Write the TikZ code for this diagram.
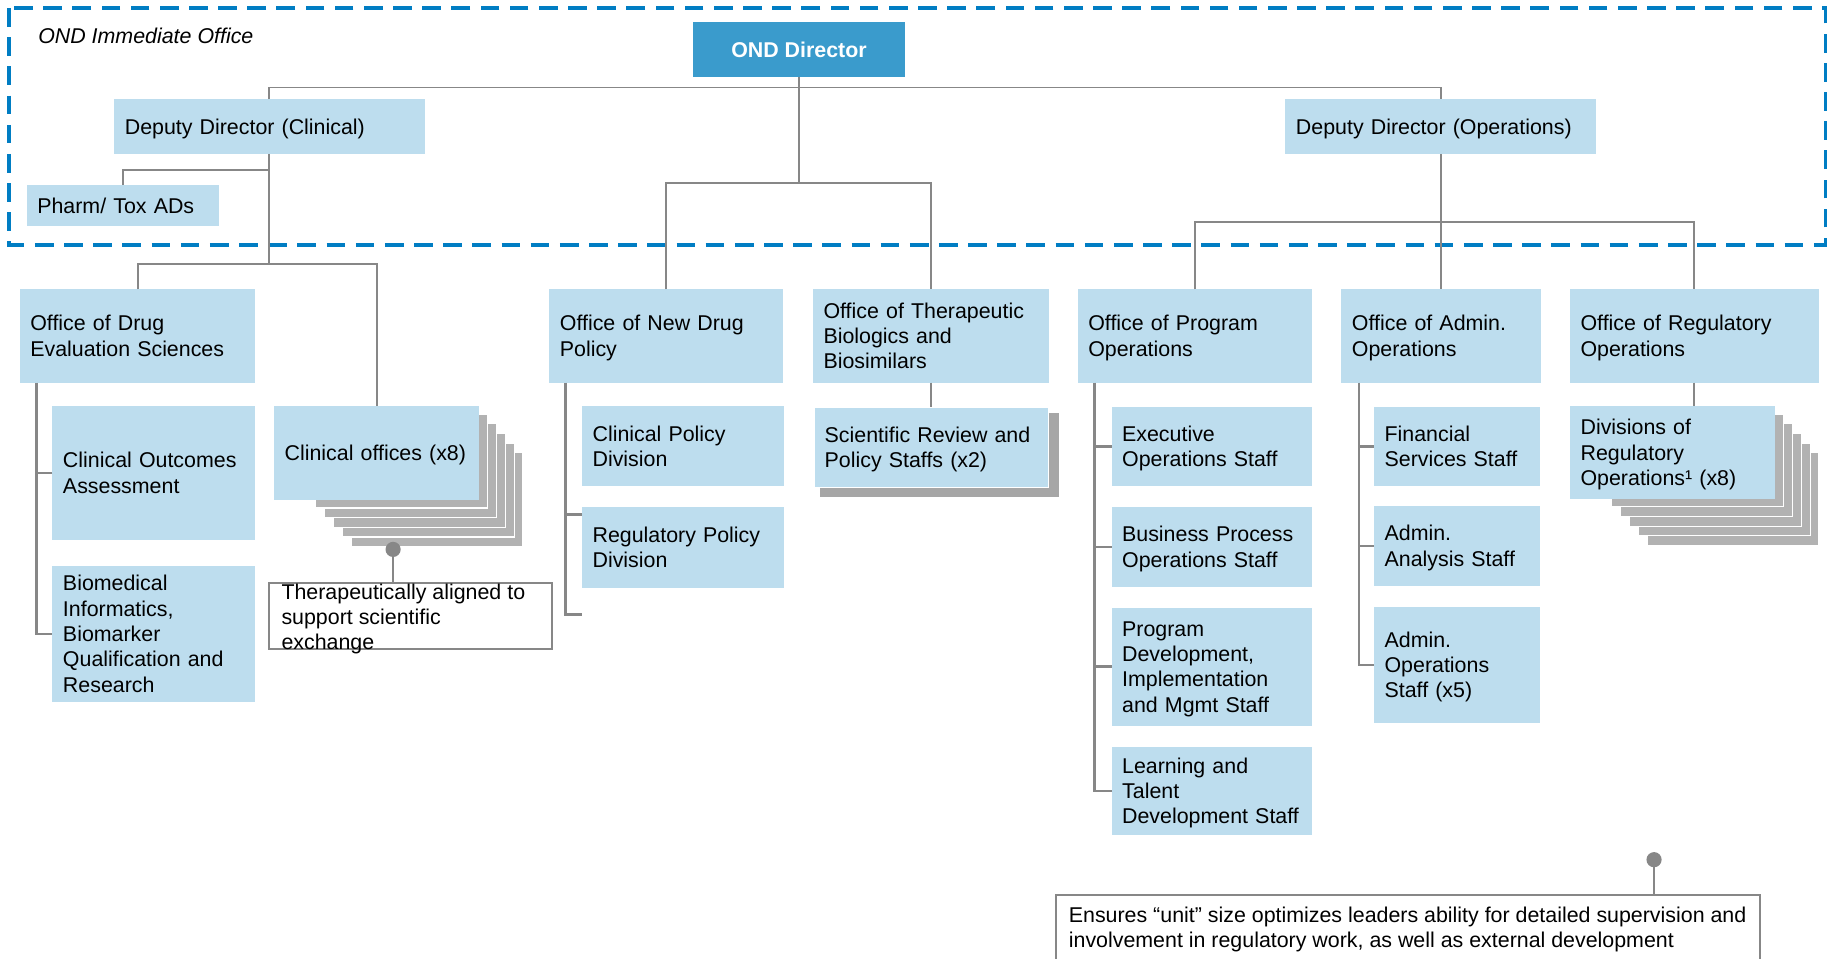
\documentclass[tikz,border=0pt]{standalone}
\usepackage{fontspec}
\setmainfont{Liberation Sans}
\usetikzlibrary{calc}
\definecolor{lb}{RGB}{189,221,238}
\definecolor{db}{RGB}{58,155,204}
\definecolor{dashblue}{RGB}{0,125,195}
\definecolor{lngray}{RGB}{135,135,135}
\definecolor{shgray}{RGB}{178,178,178}
\definecolor{shgrayb}{RGB}{166,166,166}
\tikzset{
  ob/.style 2 args={fill=lb, draw=none, anchor=north west, outer sep=0pt,
    minimum width=#1*0.6pt, minimum height=#2*0.6pt,
    text width=(#1-18)*0.6pt, inner xsep=5.4pt, inner ysep=0pt, align=left,
    execute at begin node={\rule{0pt}{10.2pt}},
    execute at end node={\rule[-2.5pt]{0pt}{2.5pt}}},
  ln/.style={draw=lngray, line width=1.0pt},
  sl/.style={draw=lngray, line width=1.4pt},
  shadowrect/.style={fill=shgray, draw=white, line width=0.6pt},
  dashbox/.style={draw=dashblue, line width=1.9pt, dash pattern=on 9.6pt off 5.4pt},
  calloutbox/.style={draw=lngray, line width=1.0pt, anchor=north west, outer sep=0pt, inner sep=0pt},
  dotnode/.style={circle, fill=lngray, minimum size=7.8pt, inner sep=0pt},
  plaintext/.style={anchor=west, align=left, inner sep=0pt}
}
\begin{document}
\begin{tikzpicture}[x=0.6pt,y=-0.6pt,font=\fontsize{11}{13}\selectfont]
\useasboundingbox (0,0) rectangle (1568,822);
\fill[white] (0,0) rectangle (1568,822);
\clip (0,0) rectangle (1568,822);

% immediate office frame
\draw[dashbox] (8,7) rectangle (1565,210);
\node[anchor=base west, inner sep=0pt, font=\fontsize{11}{13}\selectfont\itshape] (oio) at (32.5,37.5) {OND Immediate Office};

% shadows
\foreach \k in {4,3,2,1,0} {
  \filldraw[shadowrect] ({270.5+7.6*\k},{355+8.3*\k}) rectangle ({418+7.6*\k},{435.5+8.3*\k});
  \filldraw[shadowrect] ({1381.5+7.6*\k},{355+8.3*\k}) rectangle ({1529+7.6*\k},{434.5+8.3*\k});
}
\fill[shgrayb] (703,354) rectangle (908,426);

% nodes
\node[fill=db, anchor=north west, outer sep=0pt, minimum width=182*0.6pt, minimum height=47*0.6pt, inner sep=0pt, text=white, font=\fontsize{11}{13}\selectfont\bfseries] (ond) at (594,19) {\raisebox{-0.8pt}{OND Director}};
\node[ob={266}{47}] (ddc) at (98,85) {Deputy Director (Clinical)};
\node[ob={266}{47}] (ddo) at (1102,85) {Deputy Director (Operations)};
\node[ob={165}{35}] (pharm) at (23,159) {Pharm/ Tox ADs};

\node[ob={202}{80}] (odes) at (17,248) {Office of Drug\\Evaluation Sciences};
\node[ob={174}{115}] (coa) at (45,348) {Clinical Outcomes\\Assessment};
\node[ob={174}{117}] (bi) at (45,485) {Biomedical\\Informatics,\\Biomarker\\Qualification and\\Research};
\node[ob={176}{81}] (clin) at (235,348) {Clinical offices (x8)};

\node[ob={200}{80}] (ondp) at (471,248) {Office of New Drug\\Policy};
\node[ob={173}{69}] (cpd) at (499,348) {Clinical Policy\\Division};
\node[ob={173}{69}] (rpd) at (499,435) {Regulatory Policy\\Division};

\node[ob={202}{80}] (otbb) at (697,248) {Office of Therapeutic\\Biologics and\\Biosimilars};
\node[ob={201}{69}, draw=white, line width=0.5pt] (srps) at (698,349) {Scientific Review and\\Policy Staffs (x2)};

\node[ob={201}{80}] (opo) at (924,248) {Office of Program\\Operations};
\node[ob={172}{68}] (eos) at (953,349) {Executive\\Operations Staff};
\node[ob={172}{68}] (bpos) at (953,435) {Business Process\\Operations Staff};
\node[ob={172}{101}] (pdim) at (953,521) {Program\\Development,\\Implementation\\and Mgmt Staff};
\node[ob={172}{76}] (ltds) at (953,640) {Learning and\\Talent\\Development Staff};

\node[ob={171}{80}] (oao) at (1150,248) {Office of Admin.\\Operations};
\node[ob={142}{68}] (fss) at (1178,349) {Financial\\Services Staff};
\node[ob={142}{68}] (aas) at (1178,434) {Admin.\\Analysis Staff};
\node[ob={142}{100}] (aos) at (1178,520) {Admin.\\Operations\\Staff (x5)};

\node[ob={213}{80}] (oro) at (1346,248) {Office of Regulatory\\Operations};
\node[ob={176}{80}] (dro) at (1346,348) {Divisions of\\Regulatory\\Operations¹ (x8)};

% main connectors
\draw[ln] (ddc.north) -- (ddc.north |- 0,75) -- (ddo.north |- 0,75) -- (ddo.north);
\draw[ln] (ond.south) -- (ond.south |- 0,157);
\draw[ln] (ondp.north) -- (ondp.north |- 0,157) -- (otbb.north |- 0,157) -- (otbb.north);
\draw[ln] (ddc.south) -- (ddc.south |- 0,226);
\draw[ln] (ddc.south |- 0,146) -| (pharm.north);
\draw[ln] (odes.north) -- (odes.north |- 0,226) -- (clin.north |- 0,226) -- (clin.north);
\draw[ln] (ddo.south) -- (ddo.south |- oao.north);
\draw[ln] (opo.north) -- (opo.north |- 0,190) -- (oro.north |- 0,190) -- (oro.north);
\draw[ln] (otbb.south) -- (otbb.south |- srps.north);
\draw[ln] (oro.south) -- (oro.south |- dro.north);

% sub connectors
\draw[sl] ($(odes.south west)+(14,0)$) |- (bi.west);
\draw[sl] (coa.west) -- ++(-14,0);
\draw[sl] ($(ondp.south west)+(14,0)$) |- ($(rpd.south west)+(0,23)$);
\draw[sl] ($(rpd.north west)+(0,6)$) -- ++(-14,0);
\draw[sl] ($(opo.south west)+(14,0)$) |- (ltds.west);
\draw[sl] (eos.west) -- ++(-15,0);
\draw[sl] (bpos.west) -- ++(-15,0);
\draw[sl] (pdim.west) -- ++(-15,0);
\draw[sl] ($(oao.south west)+(15,0)$) |- (aos.west);
\draw[sl] (fss.west) -- ++(-13,0);
\draw[sl] (aas.west) -- ++(-13,0);

% callout 1
\node[calloutbox, minimum width=242*0.6pt, minimum height=56.5*0.6pt] (cb1) at (231,499.5) {};
\node[plaintext] (ct1) at (241,530.5) {Therapeutically aligned to\\support scientific\\exchange};
\node[dotnode] (dot1) at (337,471) {};
\draw[sl] (dot1.center) -- (dot1.center |- cb1.north);

% callout 2
\node[calloutbox, minimum width=604*0.6pt, minimum height=80*0.6pt] (cb2) at (905,767) {};
\node[plaintext] (ct2) at (916,797) {Ensures “unit” size optimizes leaders ability for detailed supervision and\\involvement in regulatory work, as well as external development};
\node[dotnode] (dot2) at (1418,737) {};
\draw[sl] (dot2.center) -- (dot2.center |- cb2.north);
\end{tikzpicture}
\end{document}
